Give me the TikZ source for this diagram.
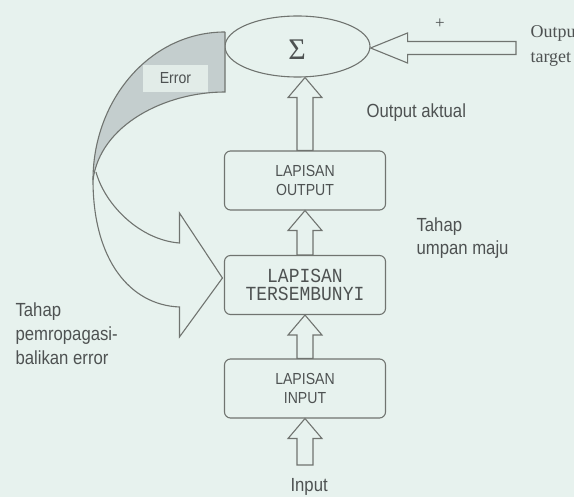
\documentclass[tikz,border=0pt]{standalone}
\usepackage{fontspec}
\usetikzlibrary{calc,shapes.geometric}
\newfontfamily\lblfont[FakeStretch=0.88]{Liberation Sans}
\newfontfamily\slabfont[FakeStretch=0.9]{Liberation Mono}
\newfontfamily\seriffont{Liberation Serif}
\definecolor{bgmint}{RGB}{231,242,238}
\definecolor{inkline}{RGB}{112,116,112}
\definecolor{inktext}{RGB}{78,82,82}
\definecolor{bandgrey}{RGB}{196,206,206}
\definecolor{tagfill}{RGB}{226,236,232}

% hollow block arrow pointing up: #1 tail, #2 tip
\newcommand{\blockup}[2]{%
  \draw[blockarrow] let \p1=(#1), \p2=(#2) in
    (\x1-8pt,\y1) -- (\x1-8pt,\y2-20pt) -- (\x1-17pt,\y2-20pt) -- (\x1,\y2)
    -- (\x1+17pt,\y2-20pt) -- (\x1+8pt,\y2-20pt) -- (\x1+8pt,\y1) -- cycle;}

\begin{document}
\begin{tikzpicture}[x=1pt,y=-1pt,line width=1.1pt,
  layerbox/.style={draw=inkline,rounded corners=6pt,minimum width=161pt,
    minimum height=59pt,inner sep=0pt,align=center,text=inktext,
    font=\lblfont\fontsize{16}{19}\selectfont},
  blockarrow/.style={draw=inkline,fill=bgmint,line width=1.1pt},
  outline/.style={draw=inkline,line width=1.1pt},
  caption/.style={inner sep=0pt,text=inktext,align=left,
    font=\lblfont\fontsize{19}{24}\selectfont}]

% canvas
\fill[bgmint] (0,0) rectangle (574,497);
\useasboundingbox (0,0) rectangle (574,497);

% summing junction and layers
\node[ellipse,draw=inkline,minimum width=145pt,minimum height=61pt,inner sep=0pt] (sum) at (297.5,46.5) {};
\node[inner sep=0pt,text=inktext,font=\seriffont\fontsize{30}{30}\selectfont] (sigma) at (297,50) {Σ};

\node[layerbox] (outbox) at (305,180.5) {LAPISAN\\OUTPUT};
\node[layerbox,font=\slabfont\fontsize{20}{18.5}\selectfont] (hidbox) at (305,285) {LAPISAN\\TERSEMBUNYI};
\node[layerbox] (inbox) at (305,388.5) {LAPISAN\\INPUT};

% free ends
\coordinate (inpfoot) at (305,465);
\coordinate (tgtfoot) at (516,48);
\coordinate (ctip) at ($(hidbox.west)+(-1.5,-7)$);

% forward pass arrows
\blockup{inpfoot}{inbox.south}
\blockup{inbox.north}{hidbox.south}
\blockup{hidbox.north}{outbox.south}
\blockup{outbox.north}{outbox.north |- sum.south}

% target output arrow into the junction
\draw[blockarrow] let \p1=(tgtfoot), \p2=(sum.east |- tgtfoot) in
  (\x1,\y1+6.5pt) -- (\x2+37pt,\y1+6.5pt) -- (\x2+37pt,\y1+15pt) -- (\x2,\y2)
  -- (\x2+37pt,\y1-15pt) -- (\x2+37pt,\y1-6.5pt) -- (\x1,\y1-6.5pt) -- cycle;

% error feedback: shaded back fold of the curved arrow
\fill[bandgrey] (225,32) .. controls (150,32) and (93,100) .. (93,180)
  .. controls (100,125) and (165,92) .. (225,92) -- cycle;
\node[fill=tagfill,minimum width=65pt,minimum height=27pt,inner sep=0pt,
  text=inktext,font=\lblfont\fontsize{16}{16}\selectfont] (errtag) at (175.5,78.5) {Error};

% curved arrow outline
\draw[outline] (225,32) .. controls (150,32) and (93,100) .. (93,180)
  .. controls (93,260) and (130,305) .. ($(ctip)+(-43,29)$)
  -- ($(ctip)+(-43,59)$) -- (ctip) -- ($(ctip)+(-43,-65)$) -- ($(ctip)+(-43,-35)$)
  .. controls (140,240) and (105,205) .. (96,172);
\draw[outline] (93,180) .. controls (100,125) and (165,92) .. (225,92) -- (225,32);

% labels
\node[caption,anchor=west] (aktual) at (366,113) {Output aktual};
\node[caption,anchor=west,font=\lblfont\fontsize{19}{23}\selectfont] (fwd) at (416,238.5) {Tahap\\umpan maju};
\node[caption,anchor=west] (bwd) at (15,334) {Tahap\\pemropagasi-\\balikan error};
\node[caption,anchor=west] (inlabel) at (290,487) {Input};
\node[caption,anchor=west,font=\seriffont\fontsize{18}{25}\selectfont] (target) at (530,45.5) {Output\\target};
\node[inner sep=0pt,text=inktext,font=\seriffont\fontsize{17}{17}\selectfont] (plus) at (440,24) {+};

\end{tikzpicture}
\end{document}
